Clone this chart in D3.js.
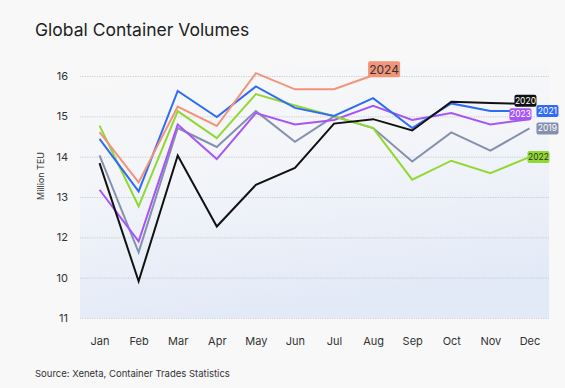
<!DOCTYPE html>
<html><head><meta charset="utf-8">
<script src="https://cdn.jsdelivr.net/npm/d3@7"></script>
<style>
html,body{margin:0;padding:0;background:#f8f8f8;}
svg{display:block;font-family:Inter, "Open Sans", sans-serif;}
</style></head>
<body><svg id="c" width="565" height="388"></svg>
<script>
const months = ["Jan","Feb","Mar","Apr","May","Jun","Jul","Aug","Sep","Oct","Nov","Dec"];
const yTickValues = [16,15,14,13,12,11,10];
const yTickLabels = ["16","15","14","13","12","10","11"];
const seriesNames = ["2019","2020","2021","2022","2023","2024"];
const v2019 = [14.03,11.63,14.71,14.24,15.13,14.37,15.00,14.71,13.88,14.60,14.15,14.70];
const v2020 = [13.84,10.91,14.03,12.27,13.30,13.72,14.82,14.93,14.65,15.36,15.33,15.31];
const v2021 = [14.44,13.14,15.63,14.98,15.74,15.21,15.01,15.45,14.71,15.32,15.13,15.13];
const v2022 = [14.77,12.77,15.13,14.46,15.55,15.27,15.00,14.71,13.43,13.90,13.59,13.99];
const v2023 = [13.18,11.90,14.80,13.94,15.08,14.80,14.91,15.26,14.91,15.08,14.80,14.93];
const v2024 = [14.61,13.36,15.24,14.76,16.07,15.67,15.67,16.02];

const colors = {"2019":"#8490ad","2020":"#111111","2021":"#2f6bf5","2022":"#91d832","2023":"#a855f5","2024":"#f2937a"};
const labelText = {"2019":"#fff","2020":"#fff","2021":"#fff","2022":"#333","2023":"#fff","2024":"#333"};
// label offsets (style)
const labelOff = {"2019":[18,0],"2020":[-4,-3],"2021":[18,0],"2022":[9,0],"2023":[-9,-5],"2024":[11,-6]};
const allValues = [v2019,v2020,v2021,v2022,v2023,v2024];
const drawOrder = ["2019","2023","2022","2021","2024","2020"];

const svg = d3.select("#c");
const L=80,R=549,T=76,B=318;
const x = d3.scalePoint().domain(months).range([L,R]).padding(0.5);
const y = d3.scaleLinear().domain([10,16]).range([B,T]);

const defs = svg.append("defs");
const g = defs.append("linearGradient").attr("id","bg").attr("x1","0").attr("y1","0").attr("x2","0.25").attr("y2","1");
g.append("stop").attr("offset","0").attr("stop-color","#f8f8f8");
g.append("stop").attr("offset","0.45").attr("stop-color","#f3f5f9");
g.append("stop").attr("offset","1").attr("stop-color","#e3eaf7");
svg.append("rect").attr("x",L).attr("y",T-10).attr("width",R-L).attr("height",B-T+10).attr("fill","url(#bg)");

svg.append("text").attr("x",35).attr("y",36).attr("font-size",17.5).attr("fill","#222").text("Global Container Volumes");

// grid
const yAxis = d3.axisLeft(y).tickValues(yTickValues).tickSize(-(R-L)).tickFormat((d,i)=>yTickLabels[i]);
const ga = svg.append("g").attr("transform",`translate(${L},0)`).call(yAxis);
ga.select(".domain").remove();
ga.selectAll(".tick line").attr("stroke","#bfc2c8").attr("stroke-dasharray","1.2,1.2").attr("stroke-width",0.8);
ga.selectAll(".tick text").attr("x",-12).attr("fill","#333").attr("font-size",11).attr("font-family","Inter, sans-serif");

svg.append("text").attr("transform","translate(44,176) rotate(-90)").attr("text-anchor","middle")
  .attr("font-size",9).attr("fill","#333").text("Million TEU");

const xAxis = d3.axisBottom(x).tickSize(0);
const gx = svg.append("g").attr("transform",`translate(0,${B})`).call(xAxis);
gx.select(".domain").remove();
gx.selectAll(".tick text").attr("y",19).attr("fill","#333").attr("font-size",11).attr("font-family","Inter, sans-serif");

svg.append("text").attr("x",35).attr("y",377).attr("font-size",9.5).attr("fill","#333").text("Source: Xeneta, Container Trades Statistics");

const line = d3.line().x((d,i)=>x(months[i])).y(d=>y(d));
drawOrder.forEach(name=>{
  const vals = allValues[seriesNames.indexOf(name)];
  svg.append("path").datum(vals).attr("d",line).attr("fill","none")
    .attr("stroke",colors[name]).attr("stroke-width",2).attr("stroke-linejoin","miter");
});
drawOrder.forEach(name=>{
  const vals = allValues[seriesNames.indexOf(name)];
  const i = vals.length-1;
  const px = x(months[i]) + labelOff[name][0], py = y(vals[i]) + labelOff[name][1];
  const big = name==="2024";
  const fs = big?12:8.5, w = big?32:22, h = big?16:12;
  const lg = svg.append("g").attr("transform",`translate(${px},${py})`);
  lg.append("rect").attr("x",-w/2).attr("y",-h/2).attr("width",w).attr("height",h).attr("rx",2)
    .attr("fill",colors[name]);
  lg.append("text").attr("text-anchor","middle").attr("dy","0.36em").attr("font-size",fs)
    .attr("fill",labelText[name]).text(name);
});
</script></body></html>
